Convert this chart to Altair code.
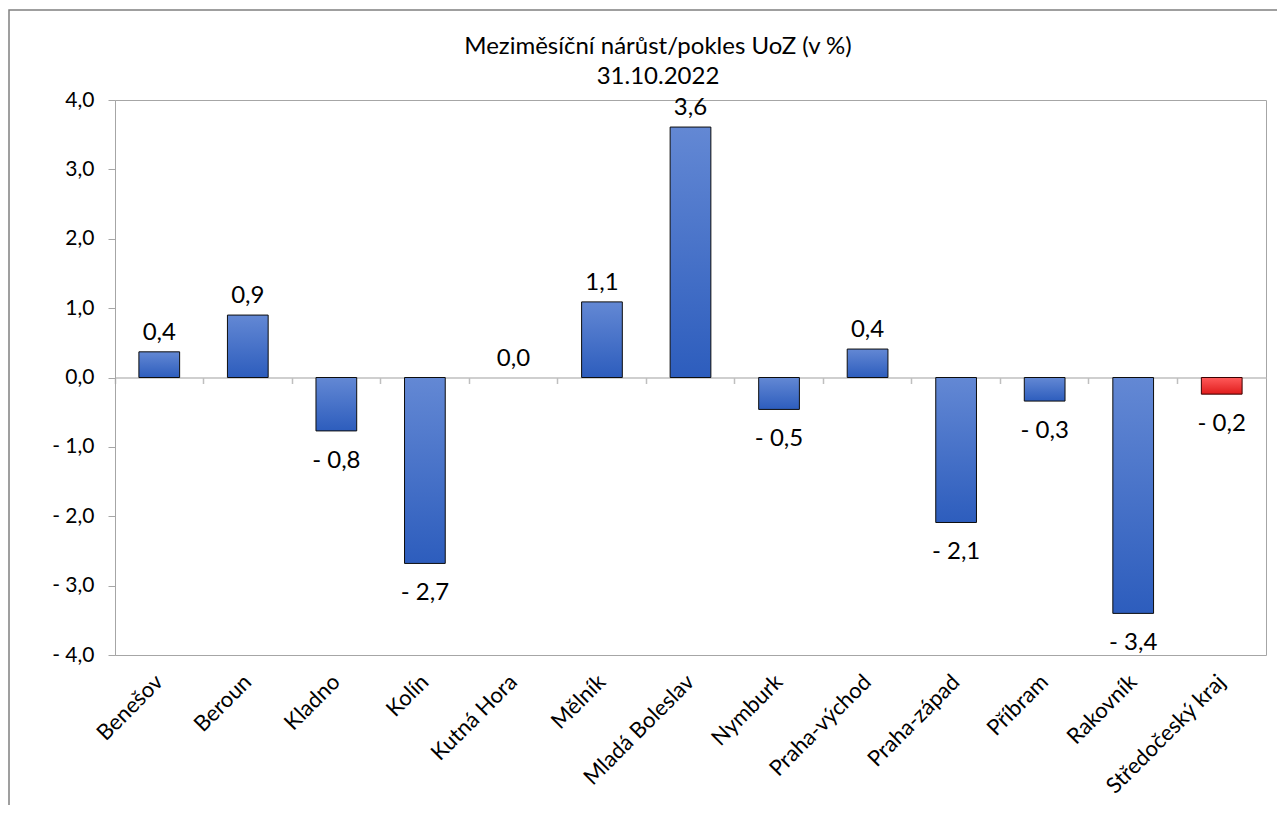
import altair as alt
import pandas as pd

regions = ["Benešov", "Beroun", "Kladno", "Kolín", "Kutná Hora", "Mělník",
           "Mladá Boleslav", "Nymburk", "Praha-východ", "Praha-západ",
           "Příbram", "Rakovník", "Středočeský kraj"]
values = [0.37, 0.90, -0.77, -2.68, 0.0, 1.09, 3.61, -0.46, 0.41, -2.09,
          -0.34, -3.40, -0.24]
total_region = "Středočeský kraj"
y_ticks = [-4, -3, -2, -1, 0, 1, 2, 3, 4]
title_lines = ["Meziměsíční nárůst/pokles UoZ (v %)", "31.10.2022"]

df = pd.DataFrame({"region": regions, "value": values})

W, H = 1151, 555
FONT = "Lato"
Y_MIN, Y_MAX = -4, 4
zero_offset = -H * (0 - Y_MIN) / (Y_MAX - Y_MIN)

num_expr = "(datum.value < 0 ? '- ' : '') + replace(format(abs(datum.value), '.1f'), '.', ',')"

y_enc = alt.Y(
    "value:Q",
    scale=alt.Scale(domain=[Y_MIN, Y_MAX], nice=False, zero=False),
    axis=alt.Axis(title=None, values=y_ticks, labelExpr=num_expr, grid=False,
                  domainColor="#a6a6a6", tickColor="#a6a6a6", tickSize=7,
                  labelPadding=14, labelFont=FONT, labelFontSize=21,
                  labelColor="#000000"),
)
x_scale = alt.Scale(paddingInner=0, paddingOuter=0)
x_labels = alt.X(
    "region:N", sort=regions, scale=x_scale,
    axis=alt.Axis(title=None, orient="bottom", labelAngle=-45, labelAlign="right",
                  labelBaseline="middle", labelFont=FONT, labelFontSize=22,
                  labelColor="#000000", labelPadding=23, domain=False, ticks=False),
)
x_zero = alt.X(
    "region:N", sort=regions, scale=x_scale,
    axis=alt.Axis(title=None, orient="bottom", offset=zero_offset, labels=False,
                  domain=True, domainColor="#bfbfbf", domainWidth=1.5,
                  ticks=True, tickColor="#bfbfbf", tickWidth=1.5, tickSize=6,
                  bandPosition=0),
)
x_none = alt.X("region:N", sort=regions, scale=x_scale, axis=None)

blue = alt.LinearGradient(
    gradient="linear",
    stops=[alt.GradientStop(color="#6388d4", offset=0),
           alt.GradientStop(color="#2d5dbd", offset=1)],
    x1=0, x2=0, y1=0, y2=1,
)
red = alt.LinearGradient(
    gradient="linear",
    stops=[alt.GradientStop(color="#ff5a5a", offset=0),
           alt.GradientStop(color="#e01c1c", offset=1)],
    x1=0, x2=0, y1=0, y2=1,
)

base = alt.Chart(df).transform_calculate(
    label="(datum.value < 0 ? '- ' : '') + replace(format(abs(datum.value), '.1f'), '.', ',')"
)

single = alt.Data(values=[{"f": 1}])

frame = alt.Chart(single).mark_rect(
    fillOpacity=0, stroke="#808080", strokeWidth=1.5
).encode(x=alt.value(-106), x2=alt.value(1250), y=alt.value(-90), y2=alt.value(800))

title = alt.Chart(single).mark_text(
    text=title_lines, font=FONT, fontSize=24, color="#000000", align="center",
    baseline="alphabetic", lineHeight=30
).encode(x=alt.value(543), y=alt.value(-46))

bars_blue = base.transform_filter(alt.datum.region != total_region).mark_bar(
    color=blue, stroke="#0d0d0d", strokeWidth=1, width=alt.RelativeBandSize(0.46)
).encode(
    x=x_labels, y=y_enc, y2=alt.datum(0),
    strokeOpacity=alt.condition(alt.datum.value == 0, alt.value(0), alt.value(1)),
)

bars_red = base.transform_filter(alt.datum.region == total_region).mark_bar(
    color=red, stroke="#3a0000", strokeWidth=1, width=alt.RelativeBandSize(0.46)
).encode(x=x_none, y=y_enc, y2=alt.datum(0))

text_pos = base.transform_filter(alt.datum.value >= 0).mark_text(
    baseline="alphabetic", dy=-12, font=FONT, fontSize=24, color="#000000"
).encode(x=x_zero, y=y_enc, text="label:N")

text_neg = base.transform_filter(alt.datum.value < 0).mark_text(
    baseline="alphabetic", dy=37, font=FONT, fontSize=24, color="#000000"
).encode(x=x_none, y=y_enc, text="label:N")

chart = alt.layer(frame, title, bars_blue, bars_red, text_pos, text_neg).resolve_axis(
    x="independent"
).properties(
    width=W, height=H,
    autosize=alt.AutoSizeParams(type="none"),
    padding={"left": 107, "top": 92, "right": 11, "bottom": 150},
    background="white",
).configure_view(stroke="#a6a6a6", strokeWidth=1)

chart.save("out.html", embed_options={"renderer": "svg", "actions": False})
